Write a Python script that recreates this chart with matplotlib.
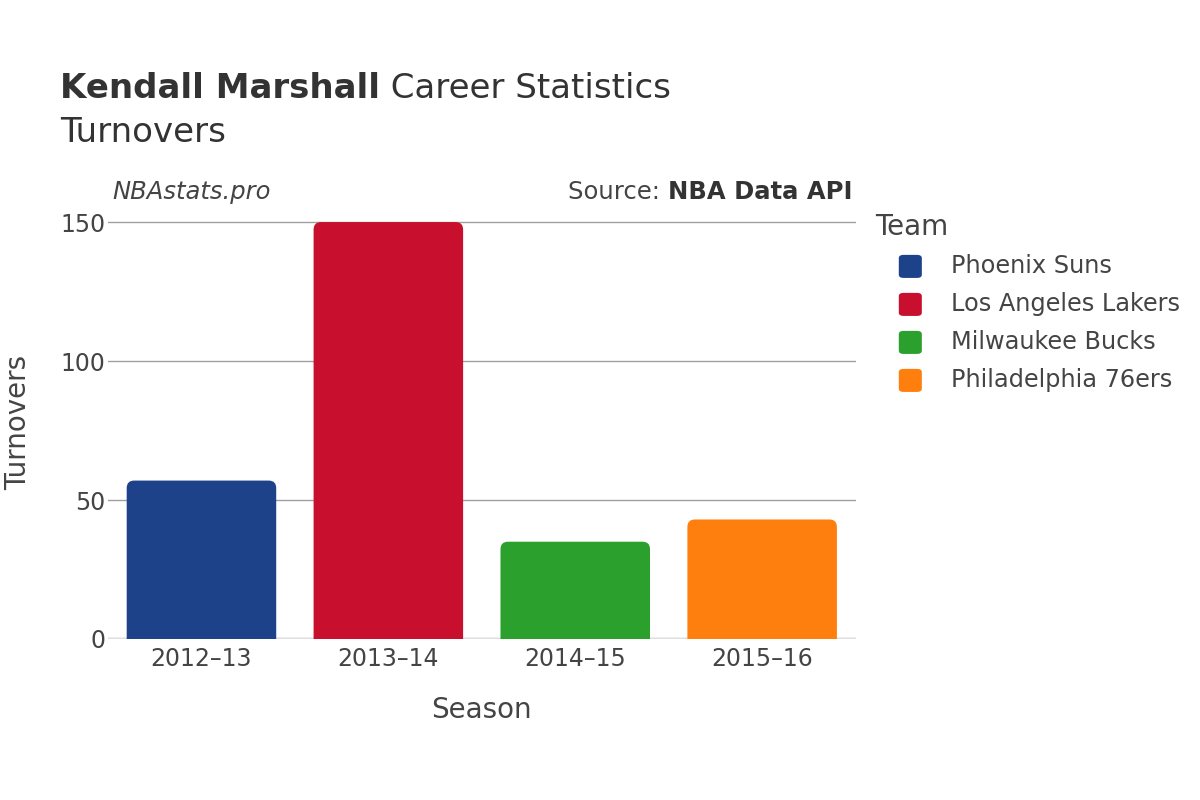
import matplotlib
matplotlib.use("Agg")
import matplotlib.pyplot as plt
from matplotlib.patches import FancyBboxPatch

# Data
seasons = ["2012–13", "2013–14", "2014–15", "2015–16"]
teams = ["Phoenix Suns", "Los Angeles Lakers", "Milwaukee Bucks", "Philadelphia 76ers"]
turnovers = [57, 150, 35, 43]
colors = ["#1d428a", "#c8102e", "#2ca02c", "#ff7f0e"]

TXT = "#444444"
plt.rcParams["font.family"] = ["DejaVu Sans"]

fig = plt.figure(figsize=(12, 8), dpi=100)
ax = fig.add_axes([0.09, 0.20125, 0.623, 0.542])

x = range(len(seasons))
bars = ax.bar(x, turnovers, width=0.8, color=colors)
# swap plain bars for rounded ones (rounding ~8px in both directions)
for b in bars:
    bx, by = b.get_x(), b.get_y()
    w, h = b.get_width(), b.get_height()
    b.set_visible(False)
    r = 0.04
    ax.add_patch(FancyBboxPatch((bx + r, by), w - 2 * r, h - r * 67,
                                boxstyle=f"round,pad={r},rounding_size={r}",
                                mutation_aspect=67, linewidth=0,
                                facecolor=b.get_facecolor()))

ax.set_xlim(-0.5, 3.5)
ax.set_ylim(0, 156)
ax.set_yticks([0, 50, 100, 150])
ax.set_xticks(list(x))
ax.set_xticklabels(seasons)
ax.grid(axis="y", color="#a0a0a0", linewidth=1)
ax.set_axisbelow(True)
ax.axhline(0, color="#eeeeee", linewidth=3, zorder=0.5)
for s in ax.spines.values():
    s.set_visible(False)
ax.tick_params(axis="y", length=0, labelsize=17, colors=TXT, pad=2)
ax.tick_params(axis="x", length=0, labelsize=17, colors=TXT, pad=6)
ax.set_xlabel("Season", fontsize=20, color=TXT, labelpad=18)
ax.set_ylabel("Turnovers", fontsize=20, color=TXT, labelpad=20)

fig.canvas.draw()
rend = fig.canvas.get_renderer()


def place_after(t, txt, **kw):
    # put a second text piece right after an existing one
    bb = t.get_window_extent(rend)
    x1 = bb.x1 / fig.bbox.width
    return fig.text(x1, t.get_position()[1], txt, **kw)


# titles
t1 = fig.text(0.05, 0.889, "Kendall Marshall", fontsize=24.5, fontweight="bold", color="#333333", va="center")
place_after(t1, " Career Statistics", fontsize=24.5, color="#333333", va="center")
fig.text(0.05, 0.834, "Turnovers", fontsize=24.5, color="#333333", va="center")

fig.text(0.094, 0.760, "NBAstats.pro", fontsize=17.5, style="italic", color=TXT, va="center")
src = fig.text(0.71, 0.760, "NBA Data API", fontsize=17.5, fontweight="bold", color="#333333", va="center", ha="right")
bb = src.get_window_extent(rend)
fig.text(bb.x0 / fig.bbox.width, 0.760, "Source: ", fontsize=17.5, color=TXT, va="center", ha="right")

# legend
fig.text(0.729, 0.716, "Team", fontsize=20, color=TXT, va="center")
for i, (t, c) in enumerate(zip(teams, colors)):
    yy = 0.667 - i * 0.0475
    fig.patches.append(FancyBboxPatch((0.749, yy - 0.0144), 0.0192, 0.0288,
                                      boxstyle="round,pad=0,rounding_size=0.004",
                                      transform=fig.transFigure, facecolor=c,
                                      linewidth=0))
    fig.text(0.7925, yy, t, fontsize=17.3, color=TXT, va="center")

fig.savefig("out.png", dpi=100)
